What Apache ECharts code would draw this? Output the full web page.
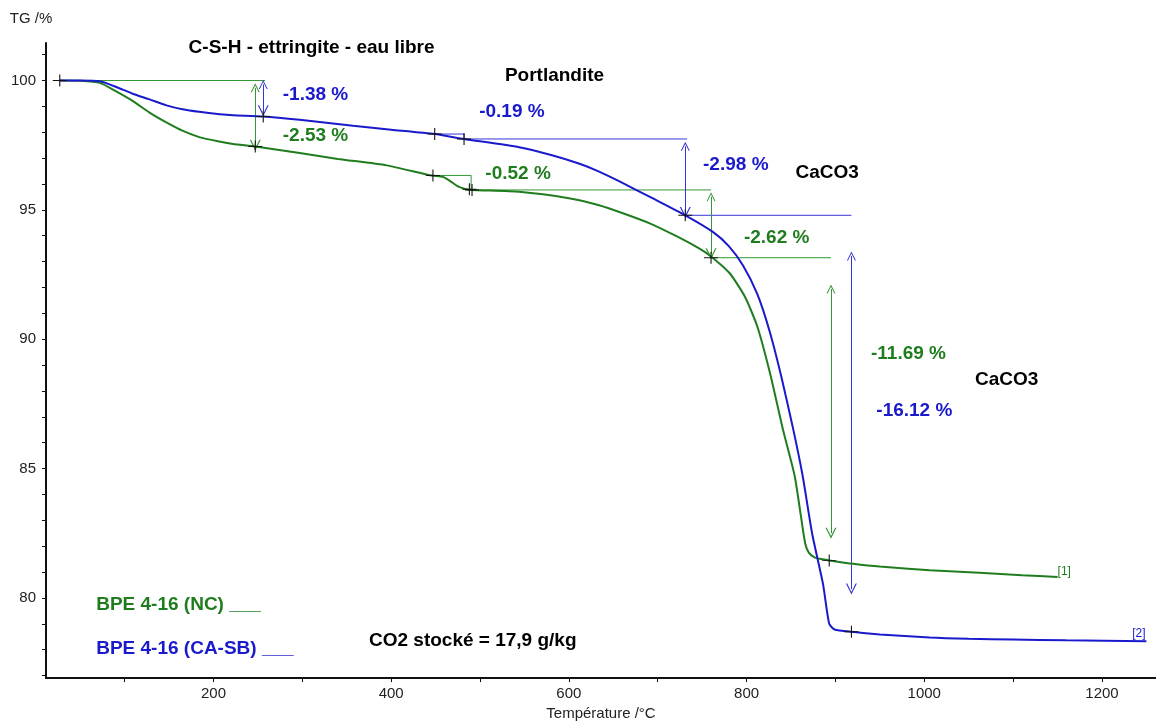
<!DOCTYPE html>
<html>
<head>
<meta charset="utf-8">
<script src="https://cdn.jsdelivr.net/npm/echarts@6/dist/echarts.min.js"></script>
<style>
  html, body { margin: 0; padding: 0; background: #fff; }
  #main { width: 1156px; height: 726px; }
</style>
</head>
<body>
<div id="main"></div>
<script>
var myChart = echarts.init(document.getElementById('main'));

// courbes TG (température °C, masse %)
var ncTemp = [27, 50, 72, 90, 109, 128, 147, 165, 184, 205, 222, 247, 297, 340, 395, 445, 458, 466, 474, 482, 490, 544, 600, 634, 660, 691, 720, 747, 760, 781, 798, 812, 827, 841, 854, 861, 866, 870, 876, 884, 893, 920, 950, 1006, 1062, 1110, 1150];
var ncMass = [100, 99.99, 99.91, 99.59, 99.21, 98.76, 98.38, 98.06, 97.81, 97.65, 97.55, 97.45, 97.2, 96.97, 96.72, 96.33, 96.28, 96.12, 95.93, 95.82, 95.77, 95.7, 95.45, 95.18, 94.88, 94.48, 94.0, 93.5, 93.2, 92.55, 91.65, 90.5, 88.6, 86.5, 84.74, 83.2, 82.1, 81.75, 81.58, 81.5, 81.45, 81.32, 81.21, 81.07, 80.97, 80.88, 80.81];
var sbTemp = [27, 50, 72, 90, 109, 128, 147, 165, 184, 207, 222, 256, 297, 357, 400, 449, 482, 544, 582, 612, 634, 657, 694, 731, 762, 780, 796, 812, 826, 839, 852, 863, 874, 886, 893, 899, 918, 950, 1006, 1050, 1099, 1160, 1250];
var sbMass = [100, 100, 99.97, 99.76, 99.49, 99.27, 99.04, 98.89, 98.79, 98.7, 98.66, 98.61, 98.48, 98.25, 98.1, 97.93, 97.74, 97.42, 97.1, 96.78, 96.48, 96.1, 95.45, 94.79, 94.15, 93.6, 92.85, 91.75, 90.3, 88.57, 86.6, 84.74, 82.45, 80.54, 79.0, 78.78, 78.69, 78.59, 78.47, 78.42, 78.39, 78.36, 78.32];

// paliers (lignes horizontales)
var ncLevels = [
  [[27, 100], [258, 100]],
  [[447, 96.33], [490, 96.33], [490, 95.77], [760, 95.77]],
  [[760, 93.15], [895, 93.15]]
];
var sbLevels = [
  [[449, 97.93], [482, 97.93], [482, 97.74], [733, 97.74]],
  [[731, 94.79], [918, 94.79]]
];

// flèches de perte de masse [T, haut, bas]
var ncArrows = [[247, 99.72, 97.5], [760, 95.51, 93.3], [895, 91.94, 82.5]];
var sbArrows = [[256, 99.85, 98.83], [731, 97.46, 94.9], [918, 93.22, 80.34]];

// repères (+)
var ncMarks = [[27, 100], [247, 97.45], [447, 96.33], [488, 95.8], [491, 95.77], [760, 93.15], [893, 81.45]];
var sbMarks = [[256, 98.61], [449, 97.93], [482, 97.74], [731, 94.79], [918, 78.69]];

// textes
var blackNotes = [[172, 101.26, 'C-S-H - ettringite - eau libre'], [528, 100.19, 'Portlandite'], [855, 96.44, 'CaCO3'], [1057, 88.45, 'CaCO3'], [375, 78.36, 'CO2 stocké = 17,9 g/kg']];
var ncNotes = [[278, 97.86, '-2.53 %'], [506, 96.41, '-0.52 %'], [797, 93.92, '-2.62 %'], [940, 89.45, '-11.69 %'], [68, 79.73, 'BPE 4-16 (NC) ___']];
var sbNotes = [[278, 99.43, '-1.38 %'], [499, 98.78, '-0.19 %'], [751, 96.75, '-2.98 %'], [946, 87.23, '-16.12 %'], [68, 78.05, 'BPE 4-16 (CA-SB) ___']];
var ncTag = [[1150, 81.03, '[1]']];
var sbTag = [[1234, 78.6, '[2]']];

var xTicks = [100, 200, 300, 400, 500, 600, 700, 800, 900, 1000, 1100, 1200];
var xLabels = [200, 400, 600, 800, 1000, 1200];
var yTicks = [77, 78, 79, 80, 81, 82, 83, 84, 85, 86, 87, 88, 89, 90, 91, 92, 93, 94, 95, 96, 97, 98, 99, 100, 101];
var yLabels = [80, 85, 90, 95, 100];

var GREEN = '#1f7d1f';
var BLUE = '#1a1acc';
var GREEN_L = '#359835';
var BLUE_L = '#3535d8';
var FONT = 'Liberation Sans, Arial, sans-serif';
var cross = 'path://M0,6H14M7,0V12';
var chevron = 'path://M0,10L5,0L10,10L8.8,10L5,2.4L1.2,10Z';

function zip(a, b) {
  return a.map(function (t, i) { return [t, b[i]]; });
}
function arrowData(list) {
  return list.map(function (a) { return { coords: [[a[0], a[1]], [a[0], a[2]]] }; });
}
function levelData(list) {
  return list.map(function (p) { return { coords: p }; });
}
function noteSeries(list, color, size, weight) {
  return {
    type: 'scatter',
    symbolSize: 0,
    silent: true,
    z: 10,
    itemStyle: { opacity: 1 },
    data: list.map(function (n) { return { value: [n[0], n[1]], name: n[2] }; }),
    label: {
      show: true,
      position: 'right',
      distance: 0,
      formatter: '{b}',
      color: color,
      opacity: 1,
      fontFamily: FONT,
      fontSize: size,
      fontWeight: weight
    }
  };
}

var option = {
  backgroundColor: '#ffffff',
  animation: false,
  grid: {
    left: 46,
    right: 0,
    top: 43,
    bottom: 41,
    containLabel: false
  },
  xAxis: {
    type: 'value',
    min: 11.5,
    max: 1260.8,
    name: 'Température /°C',
    nameLocation: 'middle',
    nameGap: 24,
    nameTextStyle: { color: '#222', fontSize: 15, fontFamily: FONT },
    axisLine: { lineStyle: { color: '#111', width: 2 } },
    axisTick: { customValues: xTicks, length: 4, lineStyle: { color: '#111' } },
    axisLabel: {
      customValues: xLabels,
      formatter: function (v) { return String(v); },
      color: '#222', fontSize: 15, fontFamily: FONT, margin: 8
    },
    splitLine: { show: false }
  },
  yAxis: {
    type: 'value',
    min: 76.9,
    max: 101.45,
    name: 'TG /%',
    nameLocation: 'end',
    nameGap: 17,
    nameTextStyle: { color: '#222', fontSize: 15, fontFamily: FONT, align: 'center', padding: [0, 30, 0, 0] },
    axisLine: { show: true, lineStyle: { color: '#111', width: 2 } },
    axisTick: { show: true, customValues: yTicks, length: 4, lineStyle: { color: '#111' } },
    axisLabel: { customValues: yLabels, color: '#222', fontSize: 15, fontFamily: FONT, margin: 10 },
    splitLine: { show: false }
  },
  series: [
    {
      name: 'paliers NC',
      type: 'lines',
      coordinateSystem: 'cartesian2d',
      polyline: true,
      silent: true,
      lineStyle: { color: GREEN_L, width: 1, opacity: 1 },
      data: levelData(ncLevels)
    },
    {
      name: 'paliers CA-SB',
      type: 'lines',
      coordinateSystem: 'cartesian2d',
      polyline: true,
      silent: true,
      lineStyle: { color: BLUE_L, width: 1, opacity: 1 },
      data: levelData(sbLevels)
    },
    {
      name: 'pertes NC',
      type: 'lines',
      coordinateSystem: 'cartesian2d',
      silent: true,
      symbol: [chevron, chevron],
      symbolSize: [9, 11],
      lineStyle: { color: GREEN_L, width: 1, opacity: 1 },
      data: arrowData(ncArrows)
    },
    {
      name: 'pertes CA-SB',
      type: 'lines',
      coordinateSystem: 'cartesian2d',
      silent: true,
      symbol: [chevron, chevron],
      symbolSize: [9, 11],
      lineStyle: { color: BLUE_L, width: 1, opacity: 1 },
      data: arrowData(sbArrows)
    },
    {
      name: 'BPE 4-16 (NC)',
      type: 'line',
      showSymbol: false,
      smooth: 0.2,
      z: 5,
      lineStyle: { color: GREEN, width: 2 },
      data: zip(ncTemp, ncMass)
    },
    {
      name: 'BPE 4-16 (CA-SB)',
      type: 'line',
      showSymbol: false,
      smooth: 0.2,
      z: 5,
      lineStyle: { color: BLUE, width: 2 },
      data: zip(sbTemp, sbMass)
    },
    {
      name: 'repères',
      type: 'scatter',
      silent: true,
      z: 6,
      symbol: cross,
      symbolSize: [14, 12],
      itemStyle: { color: 'transparent', borderColor: '#111', borderWidth: 1, opacity: 1 },
      data: ncMarks.concat(sbMarks)
    },
    noteSeries(blackNotes, '#000', 19, 'bold'),
    noteSeries(ncNotes, GREEN, 19, 'bold'),
    noteSeries(sbNotes, BLUE, 19, 'bold'),
    noteSeries(ncTag, GREEN, 12, 'normal'),
    noteSeries(sbTag, BLUE, 12, 'normal')
  ]
};

myChart.setOption(option);
</script>
</body>
</html>
